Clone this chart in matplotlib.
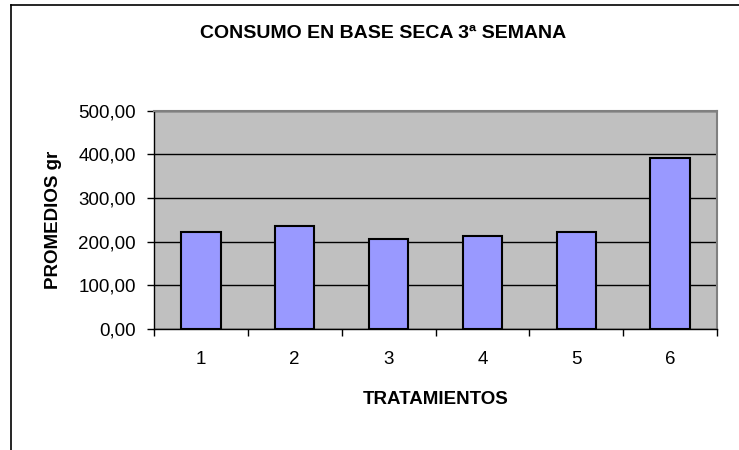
import numpy as np
import matplotlib
matplotlib.use("Agg")
import matplotlib.pyplot as plt
from matplotlib.lines import Line2D
from matplotlib.ticker import FixedLocator, FuncFormatter

plt.rcParams['font.family'] = ['Liberation Sans', 'DejaVu Sans']

# data
tratamientos = ['1', '2', '3', '4', '5', '6']
promedios = [223, 235, 206, 214, 223, 391]
y_ticks = [0, 100, 200, 300, 400, 500]

W, H = 739, 450
fig = plt.figure(figsize=(W / 100, H / 100), dpi=100)

# plot area in pixel coords of the reference
left, right, top, bottom = 154, 717, 110.7, 329
ax = fig.add_axes([left / W, 1 - bottom / H, (right - left) / W, (bottom - top) / H])

x = np.arange(1, len(tratamientos) + 1)
ax.bar(x, promedios, width=0.42, color='#9999FF', edgecolor='black', linewidth=1.5, zorder=3)

ax.set_xlim(0.5, len(tratamientos) + 0.5)
ax.set_ylim(0, 500)
ax.set_facecolor('#C0C0C0')
ax.set_axisbelow(True)
ax.yaxis.grid(True, color='black', linewidth=1)

ax.set_yticks(y_ticks)
ax.yaxis.set_major_formatter(FuncFormatter(lambda v, p: f"{v:.2f}".replace('.', ',')))
ax.tick_params(axis='y', which='major', length=5, width=1, direction='out', pad=8, labelsize=13.5)

ax.set_xticks(x)
ax.set_xticklabels(tratamientos)
ax.tick_params(axis='x', which='major', length=0, pad=16, labelsize=13.5)
ax.xaxis.set_minor_locator(FixedLocator(np.arange(0.5, len(tratamientos) + 1, 1.0)))
ax.tick_params(axis='x', which='minor', length=5, width=1, direction='out')

for side in ['top', 'right']:
    ax.spines[side].set_color('#808080')
    ax.spines[side].set_linewidth(1.5)
for side in ['left', 'bottom']:
    ax.spines[side].set_color('black')
    ax.spines[side].set_linewidth(1)

fig.text(383 / W, 1 - 33.7 / H, 'CONSUMO EN BASE SECA 3ª SEMANA',
         ha='center', va='center', fontsize=14, fontweight='bold')
fig.text(54 / W, 1 - 220 / H, 'PROMEDIOS gr', rotation=90,
         ha='center', va='center', fontsize=13.5, fontweight='bold')
fig.text(435.5 / W, 1 - 399 / H, 'TRATAMIENTOS',
         ha='center', va='center', fontsize=13.5, fontweight='bold')

# chart area border (cut off at right and bottom)
fig.add_artist(Line2D([11 / W, 11 / W], [1 - 5 / H, 0], transform=fig.transFigure, color='black', lw=1.2))
fig.add_artist(Line2D([11 / W, 1], [1 - 5 / H, 1 - 5 / H], transform=fig.transFigure, color='black', lw=1.2))

fig.savefig('out.png', dpi=100)
